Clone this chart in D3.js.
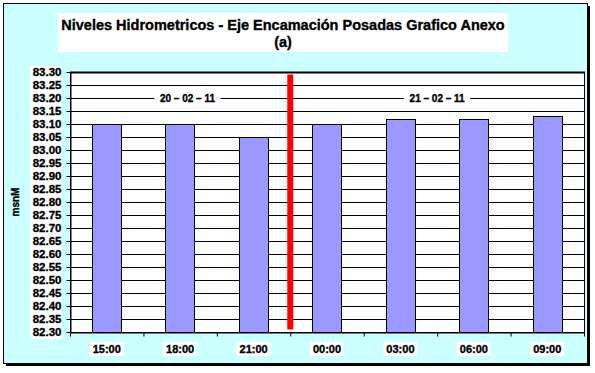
<!DOCTYPE html>
<html>
<head>
<meta charset="utf-8">
<script src="https://cdn.jsdelivr.net/npm/d3@7"></script>
<style>
  body { margin: 0; background: #fff; }
  svg text { font-family: 'Liberation Sans', Arial, sans-serif !important; font-weight: 700 !important; fill: #000; stroke: #000; stroke-width: 0.35px; }
</style>
</head>
<body>
<svg id="chart" width="595" height="373"></svg>
<script>
// chart data
var hours = ['15:00', '18:00', '21:00', '00:00', '03:00', '06:00', '09:00'];
var levels = [83.10, 83.10, 83.05, 83.10, 83.12, 83.12, 83.13];
var yTicks = d3.range(82.30, 83.301, 0.05);
var dateLabels = ['20 \u2013 02 \u2013 11', '21 \u2013 02 \u2013 11'];
var datePos = [1.6, 5.0];          // position in category units
var dateLevel = 83.20;
var dividerPos = 3;                // boundary between 21:00 and 00:00
var dividerRange = [82.31, 83.29];

var svg = d3.select('#chart');
var padding = {l: 70, r: 11, t: 72, b: 41};
var svgWidth = 595, svgHeight = 373;

// outer frame with shadow
svg.append('rect')
    .attr('x', 6).attr('y', 6).attr('width', 584).attr('height', 360)
    .attr('fill', '#000');
svg.append('rect')
    .attr('x', 3.5).attr('y', 3.5).attr('width', 584).attr('height', 360)
    .attr('fill', '#ccffff')
    .attr('stroke', '#000')
    .attr('stroke-width', 1);

// title
svg.append('rect')
    .attr('x', 58).attr('y', 13).attr('width', 450).attr('height', 39)
    .attr('fill', '#fff');
svg.append('text')
    .attr('x', 283).attr('y', 30)
    .attr('text-anchor', 'middle')
    .style('font-size', '14.5px')
    .text('Niveles Hidrometricos - Eje Encamación Posadas Grafico Anexo');
svg.append('text')
    .attr('x', 283).attr('y', 47)
    .attr('text-anchor', 'middle')
    .style('font-size', '14.5px')
    .text('(a)');

var chartWidth = svgWidth - padding.l - padding.r;
var chartHeight = svgHeight - padding.t - padding.b;

var xScale = d3.scaleBand()
    .domain(hours)
    .range([0, chartWidth])
    .paddingInner(0.6)
    .paddingOuter(0.3);
var posScale = d3.scaleLinear()
    .domain([0, hours.length])
    .range([0, chartWidth]);
var yScale = d3.scaleLinear()
    .domain([82.30, 83.30])
    .range([chartHeight, 0]);

var chartG = svg.append('g')
    .attr('transform', 'translate(' + padding.l + ',' + padding.t + ')');

chartG.append('rect')
    .attr('width', chartWidth).attr('height', chartHeight)
    .attr('fill', '#fff');

// gridlines
chartG.selectAll('.grid')
    .data(yTicks)
    .enter()
    .append('line')
    .attr('class', 'grid')
    .attr('x1', 0).attr('x2', chartWidth)
    .attr('y1', function(d) { return Math.round(yScale(d)) + 0.5; })
    .attr('y2', function(d) { return Math.round(yScale(d)) + 0.5; })
    .attr('stroke', '#000')
    .attr('stroke-width', 1);

// bars
chartG.selectAll('.bar')
    .data(levels)
    .enter()
    .append('rect')
    .attr('class', 'bar')
    .attr('x', function(d, i) { return Math.round(xScale(hours[i])) + 0.5; })
    .attr('y', function(d) { return Math.round(yScale(d)) + 0.5; })
    .attr('width', Math.round(xScale.bandwidth()))
    .attr('height', function(d) { return chartHeight - Math.round(yScale(d)); })
    .attr('fill', '#9999ff')
    .attr('stroke', '#000')
    .attr('stroke-width', 1);

// red divider
chartG.append('line')
    .attr('x1', posScale(dividerPos)).attr('x2', posScale(dividerPos))
    .attr('y1', yScale(dividerRange[1])).attr('y2', yScale(dividerRange[0]))
    .attr('stroke', '#ff0000')
    .attr('stroke-width', 6);

// date labels with white background
var dateG = chartG.selectAll('.dateLabel')
    .data(dateLabels)
    .enter()
    .append('g')
    .attr('class', 'dateLabel')
    .attr('transform', function(d, i) {
        return 'translate(' + posScale(datePos[i]) + ',' + yScale(dateLevel) + ')';
    });
dateG.append('rect')
    .attr('x', -33).attr('y', -6).attr('width', 66).attr('height', 12)
    .attr('fill', '#fff');
dateG.append('text')
    .attr('text-anchor', 'middle')
    .attr('dy', '0.35em')
    .style('font-size', '10px')
    .text(function(d) { return d; });

// plot border
chartG.append('rect')
    .attr('x', 0.5).attr('y', 0.5)
    .attr('width', chartWidth).attr('height', chartHeight)
    .attr('fill', 'none')
    .attr('stroke', '#000')
    .attr('stroke-width', 1);
chartG.append('line')
    .attr('x1', 0).attr('x2', chartWidth + 1)
    .attr('y1', 0.5).attr('y2', 0.5)
    .attr('stroke', '#000')
    .attr('stroke-width', 2);

// y axis
var yAxisG = chartG.append('g')
    .attr('transform', 'translate(0.5,0)')
    .call(d3.axisLeft(yScale).tickValues(yTicks).tickSize(4).tickSizeOuter(0).tickFormat(d3.format('.2f')));
yAxisG.selectAll('text')
    .style('font-size', '11.5px')
    .attr('x', -9);
yAxisG.selectAll('.tick').insert('rect', 'text')
    .attr('x', -40).attr('y', -6.5).attr('width', 31).attr('height', 13)
    .attr('fill', '#fff');

// x axis: ticks at category boundaries, labels at centres
var xAxisG = chartG.append('g')
    .attr('transform', 'translate(0,' + (chartHeight + 0.5) + ')')
    .call(d3.axisBottom(posScale).tickValues(d3.range(0, hours.length + 1)).tickSize(4).tickSizeOuter(0).tickFormat(''));
xAxisG.selectAll('line, path').attr('stroke', '#000');

var xLabels = chartG.selectAll('.xLabel')
    .data(hours)
    .enter()
    .append('g')
    .attr('class', 'xLabel')
    .attr('transform', function(d) {
        return 'translate(' + (xScale(d) + xScale.bandwidth() / 2) + ',' + (chartHeight + 17) + ')';
    });
xLabels.append('rect')
    .attr('x', -17).attr('y', -7).attr('width', 34).attr('height', 14)
    .attr('fill', '#fff');
xLabels.append('text')
    .attr('text-anchor', 'middle')
    .attr('dy', '0.35em')
    .style('font-size', '11px')
    .text(function(d) { return d; });

// y axis title
svg.append('text')
    .attr('transform', 'translate(19,' + (padding.t + chartHeight / 2) + ') rotate(-90)')
    .attr('text-anchor', 'middle')
    .style('font-size', '10px')
    .text('msnM');
</script>
</body>
</html>
